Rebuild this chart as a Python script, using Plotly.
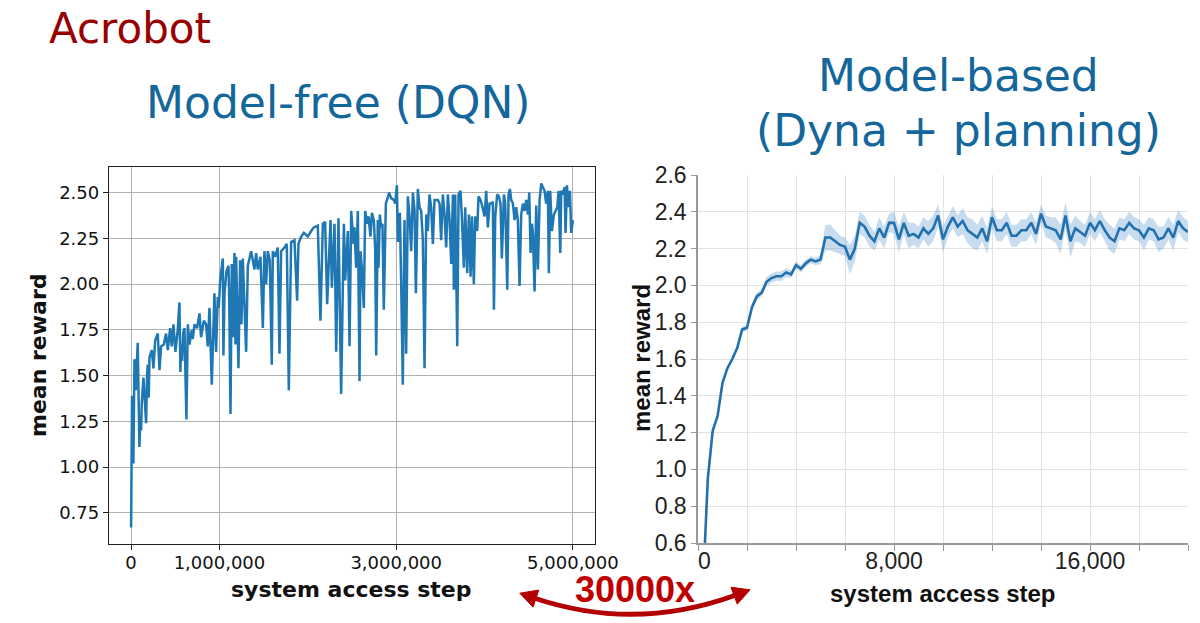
import numpy as np
import plotly.graph_objects as go

W, H = 1200, 623

# ---------------- Left panel: Model-free (DQN) ----------------
dqn_step_millions = [
    0.000, 0.011, 0.026, 0.038, 0.053, 0.075, 0.094, 0.106, 0.113, 0.121,
    0.140, 0.170, 0.181, 0.189, 0.200, 0.208, 0.234, 0.253, 0.272, 0.302,
    0.321, 0.340, 0.370, 0.396, 0.415, 0.442, 0.460, 0.479, 0.502, 0.528,
    0.547, 0.558, 0.566, 0.577, 0.589, 0.604, 0.626, 0.642, 0.660, 0.687,
    0.698, 0.717, 0.747, 0.774, 0.792, 0.823, 0.849, 0.868, 0.887, 0.913,
    0.943, 0.962, 0.981, 0.992, 1.008, 1.038, 1.045, 1.057, 1.079, 1.102,
    1.109, 1.125, 1.140, 1.151, 1.170, 1.181, 1.189, 1.215, 1.234, 1.249,
    1.264, 1.302, 1.321, 1.358, 1.377, 1.396, 1.415, 1.434, 1.464, 1.491,
    1.509, 1.528, 1.547, 1.570, 1.592, 1.604, 1.630, 1.660, 1.679, 1.698,
    1.736, 1.762, 1.785, 1.811, 1.849, 1.879, 1.894, 1.925, 1.955, 2.000,
    2.038, 2.068, 2.113, 2.143, 2.170, 2.196, 2.219, 2.257, 2.272, 2.302,
    2.321, 2.347, 2.377, 2.408, 2.423, 2.453, 2.472, 2.491, 2.517,
    2.528, 2.547, 2.566, 2.585, 2.596, 2.611, 2.634, 2.649, 2.672, 2.687,
    2.709, 2.725, 2.747, 2.762, 2.774, 2.792, 2.800, 2.815, 2.830, 2.845,
    2.860, 2.883, 2.906, 2.921, 2.943, 2.974, 2.989, 3.008, 3.019, 3.042,
    3.057, 3.075, 3.094, 3.113, 3.132, 3.151, 3.170, 3.189, 3.208, 3.223,
    3.245, 3.264, 3.283, 3.302, 3.321, 3.340, 3.358, 3.377, 3.396, 3.415,
    3.434, 3.472, 3.491, 3.509, 3.528, 3.547, 3.566, 3.585, 3.604, 3.623,
    3.642, 3.653, 3.668, 3.679, 3.691, 3.706, 3.728, 3.743, 3.766, 3.781,
    3.804, 3.823, 3.842, 3.857, 3.879, 3.894, 3.917, 3.932, 3.955, 3.977,
    4.000, 4.019, 4.038, 4.057, 4.075, 4.094, 4.106, 4.121, 4.143, 4.162,
    4.181, 4.196, 4.219, 4.234, 4.257, 4.272, 4.287, 4.302, 4.321, 4.340,
    4.358, 4.377, 4.396, 4.415, 4.434, 4.453, 4.472, 4.491, 4.506, 4.521,
    4.536, 4.547, 4.566, 4.585, 4.604, 4.623, 4.642, 4.660, 4.679, 4.698,
    4.717, 4.728, 4.743, 4.762, 4.785, 4.804, 4.823, 4.838, 4.857, 4.868,
    4.887, 4.906, 4.917, 4.932, 4.951, 4.966, 4.981, 5.000,
]
dqn_reward = [
    0.67, 1.39, 1.02, 1.59, 1.42, 1.68, 1.11, 1.29, 1.20, 1.35,
    1.49, 1.24, 1.51, 1.56, 1.38, 1.60, 1.64, 1.54, 1.69, 1.73,
    1.53, 1.66, 1.67, 1.73, 1.64, 1.76, 1.66, 1.78, 1.63, 1.75,
    1.90, 1.52, 1.67, 1.58, 1.73, 1.76, 1.26, 1.78, 1.67, 1.75,
    1.70, 1.78, 1.76, 1.84, 1.71, 1.80, 1.78, 1.66, 1.87, 1.45,
    1.95, 1.63, 1.93, 1.87, 2.02, 2.14, 1.61, 1.95, 2.07, 2.10,
    1.97, 1.29, 2.11, 1.71, 2.17, 1.67, 2.15, 1.54, 2.13, 1.78,
    2.14, 1.63, 2.10, 2.18, 2.13, 2.08, 2.17, 2.08, 2.15, 1.76,
    2.18, 2.00, 2.18, 2.13, 1.56, 2.18, 2.15, 2.20, 1.62, 2.18,
    2.20, 2.22, 1.42, 2.23, 2.24, 1.91, 2.22, 2.26, 2.28, 2.26,
    2.29, 2.31, 2.32, 1.80, 2.33, 2.34, 1.89, 2.35, 1.98, 2.33,
    1.63, 2.36, 1.40, 2.33, 2.02, 2.29, 1.66, 2.40, 2.22,
    2.31, 2.09, 2.40, 1.47, 2.18, 2.09, 1.87, 2.40, 2.33, 2.37,
    2.26, 2.39, 2.35, 2.20, 1.61, 2.35, 2.09, 2.38, 2.31, 2.33,
    1.86, 2.44, 2.47, 2.50, 2.47, 2.46, 2.44, 2.54, 2.23, 2.39,
    1.99, 1.45, 2.35, 1.62, 2.48, 2.37, 2.18, 2.50, 2.40, 1.95,
    2.52, 2.42, 2.40, 2.24, 1.54, 2.38, 2.29, 2.49, 2.42, 2.22,
    2.46, 2.46, 2.44, 2.24, 2.49, 2.38, 2.20, 2.49, 2.35, 2.11,
    2.49, 1.97, 2.49, 2.20, 1.66, 2.49, 2.51, 2.37, 2.09, 2.42,
    2.06, 2.38, 2.04, 2.37, 2.00, 2.37, 2.29, 2.48, 2.46, 2.42,
    2.37, 2.51, 2.31, 2.44, 2.44, 2.45, 1.86, 2.37, 2.49, 2.48,
    2.44, 2.14, 2.49, 2.44, 1.97, 2.49, 2.52, 2.46, 2.44, 2.35,
    2.42, 2.35, 1.99, 2.38, 2.44, 2.40, 2.46, 2.38, 2.50, 2.17,
    2.33, 2.28, 1.96, 2.43, 2.08, 2.46, 2.55, 2.53, 2.51, 2.44,
    2.51, 2.06, 2.51, 2.29, 2.38, 2.40, 2.42, 2.51, 2.17, 2.51,
    2.49, 2.53, 2.28, 2.54, 2.42, 2.51, 2.28, 2.35,
]
left_xticks = [0, 1_000_000, 3_000_000, 5_000_000]
left_xtick_text = ["0", "1,000,000", "3,000,000", "5,000,000"]
left_yticks = [0.75, 1.00, 1.25, 1.50, 1.75, 2.00, 2.25, 2.50]

# ---------------- Right panel: Model-based (Dyna + planning) ----------------
dyna_steps = list(range(200, 20001, 200))
dyna_reward = [
    0.35, 0.95, 1.21, 1.29, 1.47, 1.55, 1.60, 1.66, 1.76, 1.77,
    1.88, 1.94, 1.96, 2.02, 2.04, 2.05, 2.05, 2.07, 2.06, 2.11,
    2.09, 2.12, 2.14, 2.13, 2.14, 2.26, 2.26, 2.24, 2.22, 2.21,
    2.14, 2.20, 2.34, 2.32, 2.27, 2.24, 2.31, 2.26, 2.34, 2.34,
    2.25, 2.34, 2.27, 2.28, 2.26, 2.31, 2.28, 2.31, 2.38, 2.25,
    2.32, 2.37, 2.32, 2.35, 2.30, 2.28, 2.26, 2.31, 2.24, 2.37,
    2.30, 2.30, 2.34, 2.27, 2.27, 2.30, 2.30, 2.34, 2.28, 2.39,
    2.32, 2.31, 2.30, 2.25, 2.38, 2.24, 2.31, 2.29, 2.27, 2.34,
    2.30, 2.35, 2.30, 2.26, 2.24, 2.31, 2.30, 2.34, 2.31, 2.30,
    2.26, 2.31, 2.30, 2.25, 2.26, 2.31, 2.26, 2.35, 2.31, 2.29,
]
dyna_band_half = [
    0.00, 0.01, 0.01, 0.01, 0.01, 0.01, 0.01, 0.015, 0.015, 0.015,
    0.02, 0.02, 0.02, 0.025, 0.025, 0.025, 0.025, 0.025, 0.02, 0.02,
    0.02, 0.02, 0.02, 0.02, 0.025, 0.07, 0.07, 0.06, 0.05, 0.05,
    0.08, 0.07, 0.06, 0.06, 0.06, 0.05, 0.06, 0.06, 0.05, 0.06,
    0.07, 0.06, 0.07, 0.06, 0.06, 0.06, 0.07, 0.07, 0.06, 0.07,
    0.06, 0.06, 0.06, 0.07, 0.07, 0.08, 0.07, 0.07, 0.07, 0.06,
    0.06, 0.06, 0.06, 0.06, 0.06, 0.06, 0.06, 0.06, 0.06, 0.05,
    0.06, 0.06, 0.07, 0.08, 0.07, 0.09, 0.07, 0.06, 0.06, 0.06,
    0.06, 0.06, 0.06, 0.07, 0.07, 0.06, 0.06, 0.06, 0.06, 0.06,
    0.07, 0.06, 0.06, 0.07, 0.06, 0.06, 0.07, 0.06, 0.06, 0.06,
]
right_xticks = list(range(0, 20001, 2000))
right_xtick_text = ["\u00a0\u00a00", "", "", "", "8,000", "", "", "", "16,000", "", ""]

# ---------------- Figure ----------------
def px(X, Y):
    return X / W, 1 - Y / H

dqn_x = np.array(dqn_step_millions) * 1_000_000
dyna_r = np.array(dyna_reward)
dyna_h = np.array(dyna_band_half)

fig = go.Figure()
fig.add_trace(go.Scatter(x=dqn_x, y=dqn_reward, mode="lines",
                         line=dict(color="#1f77b4", width=2.5),
                         xaxis="x", yaxis="y", showlegend=False, hoverinfo="skip"))
fig.add_trace(go.Scatter(x=dyna_steps, y=dyna_r + dyna_h, mode="lines",
                         line=dict(width=0, color="rgba(0,0,0,0)"),
                         xaxis="x2", yaxis="y2", showlegend=False, hoverinfo="skip"))
fig.add_trace(go.Scatter(x=dyna_steps, y=dyna_r - dyna_h, mode="lines",
                         line=dict(width=0, color="rgba(0,0,0,0)"),
                         fill="tonexty", fillcolor="rgba(70,140,200,0.30)",
                         xaxis="x2", yaxis="y2", showlegend=False, hoverinfo="skip"))
fig.add_trace(go.Scatter(x=dyna_steps, y=dyna_r, mode="lines",
                         line=dict(color="#2270ad", width=2.6),
                         xaxis="x2", yaxis="y2", showlegend=False, hoverinfo="skip"))

mpl_font = dict(family="DejaVu Sans", size=18, color="#111")
arial_font = dict(family="Liberation Sans, Arial", size=23, color="#222")

fig.update_layout(
    width=W, height=H, margin=dict(l=0, r=0, t=0, b=0, pad=0, autoexpand=False),
    autosize=False, paper_bgcolor="white", plot_bgcolor="white",
    xaxis=dict(domain=[109 / W, 595 / W], anchor="y", range=[-250000, 5250000],
               automargin=False, ticklabelstandoff=-3,
               tickvals=left_xticks, ticktext=left_xtick_text, tickfont=mpl_font,
               showgrid=True, gridcolor="#b0b0b0", gridwidth=1, zeroline=False,
               showline=True, linecolor="#222", linewidth=1.3, mirror=True,
               ticks="outside", ticklen=5, tickcolor="#222"),
    yaxis=dict(domain=[1 - 544 / H, 1 - 167 / H], anchor="x", range=[0.58, 2.64],
               automargin=False,
               tickvals=left_yticks, tickformat=".2f", tickfont=mpl_font,
               showgrid=True, gridcolor="#b0b0b0", gridwidth=1, zeroline=False,
               showline=True, linecolor="#222", linewidth=1.3, mirror=True,
               ticks="outside", ticklen=5, tickcolor="#222"),
    xaxis2=dict(domain=[698 / W, 1188 / W], anchor="y2", range=[0, 20000],
                automargin=False, ticklabelstandoff=-9,
                tickvals=right_xticks, ticktext=right_xtick_text, tickfont=arial_font,
                showgrid=True, gridcolor="#e2e2e2", gridwidth=1, zeroline=False,
                showline=True, linecolor="#999", linewidth=1.5,
                ticks="outside", ticklen=6, tickcolor="#999"),
    yaxis2=dict(domain=[1 - 543 / H, 1 - 175 / H], anchor="x2", range=[0.6, 2.6],
                automargin=False,
                dtick=0.2, tick0=0.6, tickformat=".1f", tickfont=arial_font,
                showgrid=True, gridcolor="#e2e2e2", gridwidth=1, zeroline=False,
                showline=True, linecolor="#999", linewidth=1.5,
                ticks="outside", ticklen=5, tickcolor="#999"),
)

def note(text, X, Y, font, xanchor="center", angle=0):
    x, y = px(X, Y)
    fig.add_annotation(text=text, x=x, y=y, xref="paper", yref="paper",
                       xanchor=xanchor, yanchor="middle", showarrow=False,
                       textangle=angle, font=font)

blue = "#14679b"
note("Acrobot", 47, 28, dict(family="DejaVu Sans", size=42, color="#990000"), xanchor="left")
note("Model-free (DQN)", 338, 102, dict(family="DejaVu Sans", size=44, color=blue))
note("Model-based", 958, 75, dict(family="DejaVu Sans", size=44, color=blue))
note("(Dyna + planning)", 958, 130, dict(family="DejaVu Sans", size=44, color=blue))

note("mean reward", 38, 355, dict(family="DejaVu Sans", size=22, color="#111", weight="bold"), angle=-90)
note("system access step", 351, 589, dict(family="DejaVu Sans", size=22, color="#111", weight="bold"))
note("mean reward", 641, 358, dict(family="Liberation Sans, Arial", size=24, color="#111", weight="bold"), angle=-90)
note("system access step", 943, 593, dict(family="Liberation Sans, Arial", size=24, color="#111", weight="bold"))

note("30000x", 635, 589, dict(family="Liberation Sans, Arial", size=36, color="#c00000", weight="bold"))

# curved double-headed arrow
S, C, E = (534, 598), (635, 632), (736, 595)
def pt(p):
    x, y = px(*p)
    return f"{x:.5f},{y:.5f}"
fig.add_shape(type="path", xref="paper", yref="paper",
              path=f"M {pt(S)} Q {pt(C)} {pt(E)}",
              line=dict(color="#b30000", width=5))
for tip_base, ctrl in ((S, C), (E, C)):
    d = np.array(tip_base, float) - np.array(ctrl, float)
    d /= np.linalg.norm(d)
    perp = np.array([d[1], -d[0]])
    base = np.array(tip_base, float) - 2 * d
    tip = base + 17 * d
    b1 = base + 9 * perp
    b2 = base - 9 * perp
    fig.add_shape(type="path", xref="paper", yref="paper",
                  path=f"M {pt(tip)} L {pt(b1)} L {pt(b2)} Z",
                  fillcolor="#b30000", line=dict(color="#b30000", width=1))

fig.write_html(
    "out.html",
    config={"responsive": False},
    post_script="document.body.style.margin='0';document.body.style.overflow='hidden';",
)
